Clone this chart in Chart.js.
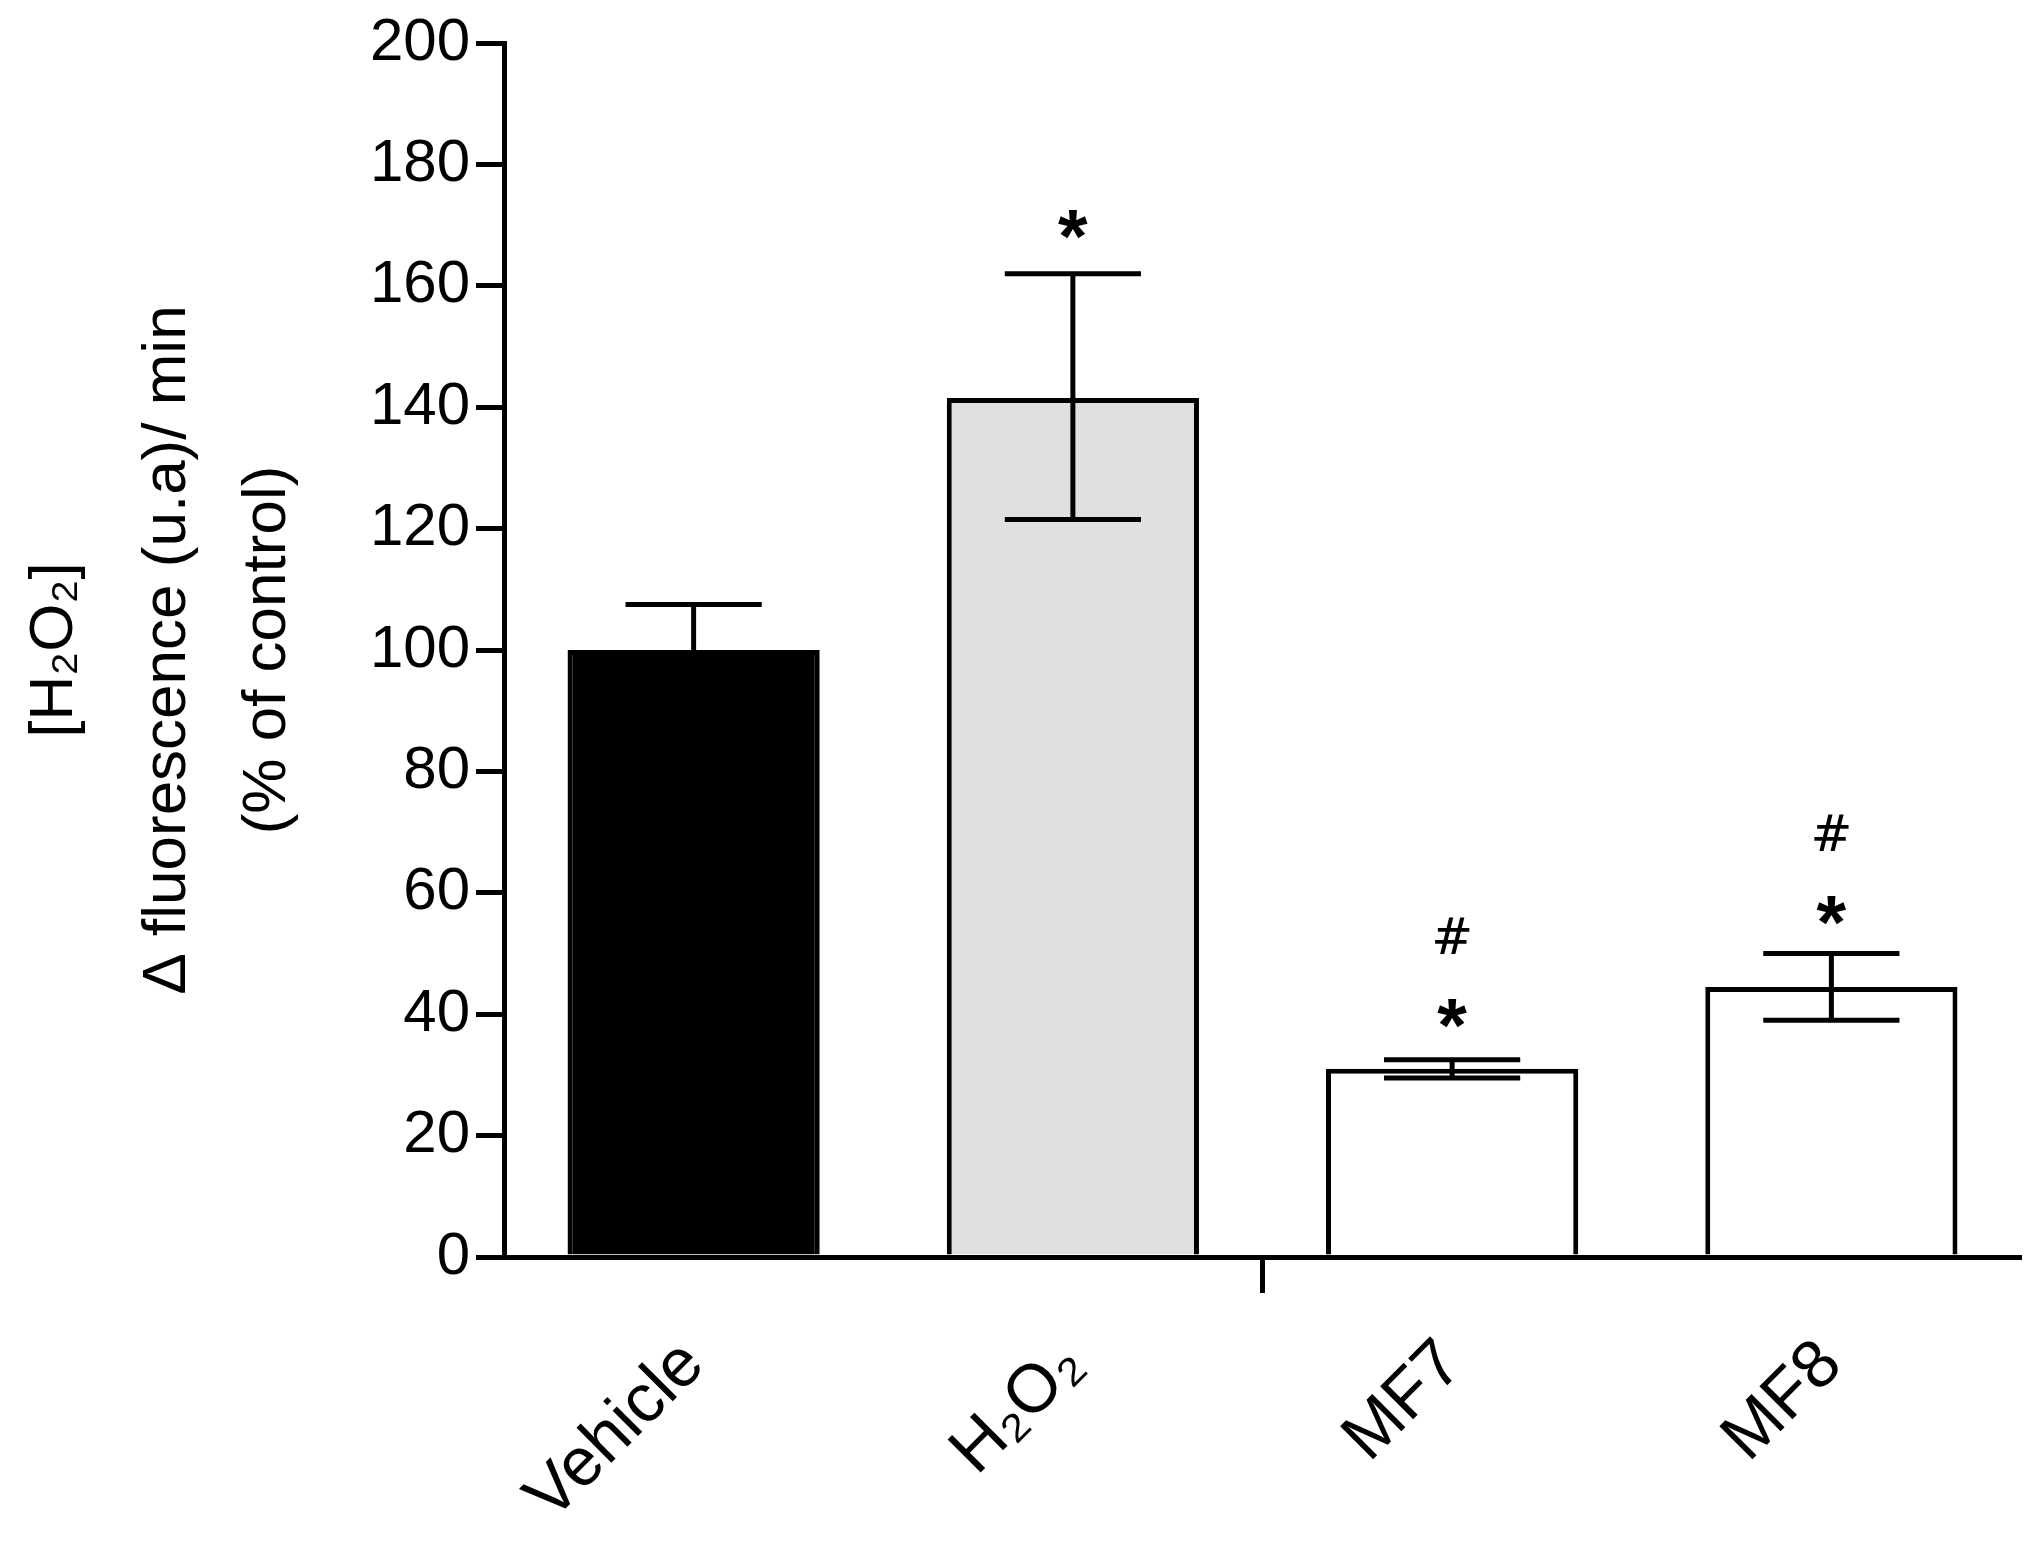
<!DOCTYPE html>
<html>
<head>
<meta charset="utf-8">
<script src="https://cdn.jsdelivr.net/npm/chart.js@4.4.1/dist/chart.umd.min.js"></script>
<style>
  html, body { margin: 0; padding: 0; background: #fff; }
</style>
</head>
<body>
<canvas id="c" width="2038" height="1542"></canvas>
<script>
// values
const categories = ['Vehicle', 'H\u2082O\u2082', 'MF7', 'MF8'];
const means = [100, 141.5, 31, 44.5];
const errLow = [100, 121.5, 29.5, 39];
const errHigh = [107.5, 162, 32.5, 50];
const barColors = ['#000000', '#e0e0e0', '#ffffff', '#ffffff'];
const starAt = [null, 170, 40, 57];
const hashAt = [null, null, 52, 69];
const yTicks = [0, 20, 40, 60, 80, 100, 120, 140, 160, 180, 200];

const FONT = '"Liberation Sans", Arial, sans-serif';

// error bars, significance marks, y title and middle x tick
const extras = {
  id: 'extras',
  afterDatasetsDraw(chart) {
    const ctx = chart.ctx;
    const x = chart.scales.x, y = chart.scales.y;
    const meta = chart.getDatasetMeta(0);
    ctx.save();
    ctx.strokeStyle = '#000';
    ctx.lineWidth = 5;
    meta.data.forEach((bar, i) => {
      const cx = bar.x;
      const half = bar.width * 0.27;
      const yl = y.getPixelForValue(errLow[i]);
      const yh = y.getPixelForValue(errHigh[i]);
      ctx.beginPath();
      ctx.moveTo(cx, yl); ctx.lineTo(cx, yh);
      ctx.moveTo(cx - half, yh); ctx.lineTo(cx + half, yh);
      if (errLow[i] !== means[i]) { ctx.moveTo(cx - half, yl); ctx.lineTo(cx + half, yl); }
      ctx.stroke();
      ctx.fillStyle = '#000';
      ctx.textAlign = 'center';
      ctx.textBaseline = 'middle';
      if (starAt[i] !== null) {
        ctx.font = 'bold 76px ' + FONT;
        ctx.fillText('*', cx, y.getPixelForValue(starAt[i]) + 16);
      }
      if (hashAt[i] !== null) {
        ctx.font = '50px "DejaVu Serif", serif';
        ctx.fillText('#', cx, y.getPixelForValue(hashAt[i]));
      }
    });
    // tick between groups
    const mid = (x.getPixelForValue(1) + x.getPixelForValue(2)) / 2;
    ctx.beginPath();
    ctx.moveTo(mid, x.top); ctx.lineTo(mid, x.top + 36);
    ctx.stroke();
    // y title
    ctx.translate(0, (y.top + y.bottom) / 2);
    ctx.rotate(-Math.PI / 2);
    ctx.font = '62px ' + FONT;
    ctx.textAlign = 'center';
    ctx.textBaseline = 'middle';
    ctx.fillText('[H\u2082O\u2082]', 0, 55);
    ctx.fillText('\u0394 fluorescence (u.a)/ min', 0, 168);
    ctx.fillText('(% of control)', 0, 268);
    ctx.restore();
  }
};

new Chart(document.getElementById('c'), {
  type: 'bar',
  data: {
    labels: categories,
    datasets: [{
      data: means,
      backgroundColor: barColors,
      borderColor: '#000',
      borderWidth: 5,
      borderSkipped: 'bottom',
      categoryPercentage: 1,
      barPercentage: 0.665
    }]
  },
  options: {
    responsive: false,
    animation: false,
    devicePixelRatio: 1,
    layout: { padding: { top: 43, right: 17, left: 0, bottom: 0 } },
    plugins: { legend: { display: false }, tooltip: { enabled: false } },
    scales: {
      y: {
        min: 0, max: 200,
        afterBuildTicks(s) { s.ticks = yTicks.map(v => ({ value: v })); },
        afterFit(s) { s.width = 504; },
        grid: { drawOnChartArea: false, tickLength: 28, color: '#000', lineWidth: 5 },
        border: { color: '#000', width: 5 },
        ticks: { color: '#000', font: { family: FONT, size: 60 }, padding: 6 }
      },
      x: {
        afterFit(s) { s.height = 285; },
        grid: { display: false },
        border: { color: '#000', width: 5 },
        ticks: {
          color: '#000', font: { family: FONT, size: 68 },
          minRotation: 45, maxRotation: 45, autoSkip: false, padding: 60
        }
      }
    }
  },
  plugins: [extras]
});
</script>
</body>
</html>
